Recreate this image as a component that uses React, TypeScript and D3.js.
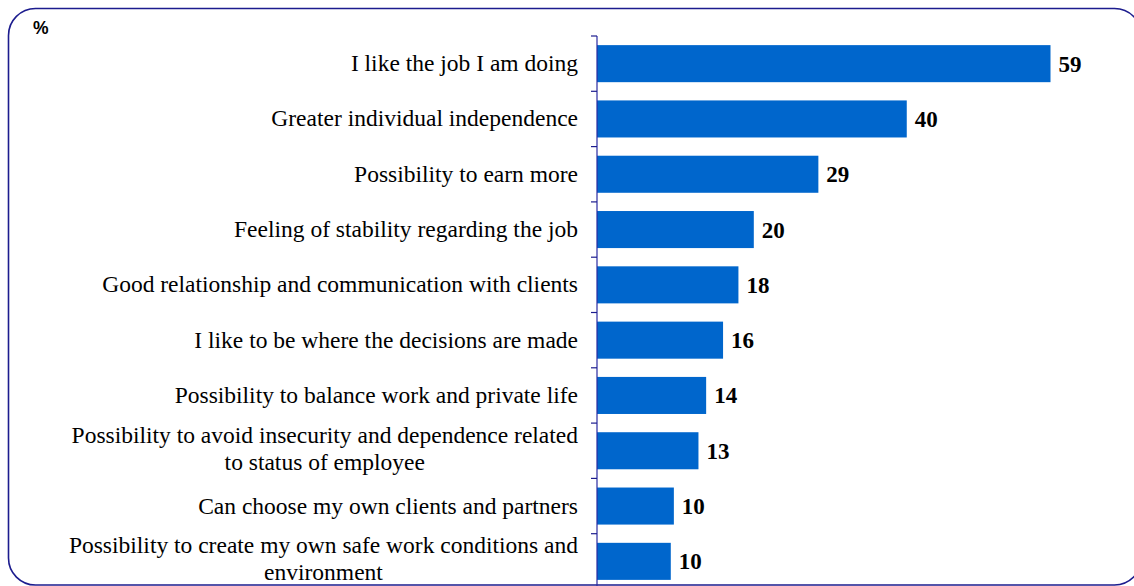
import React, { useEffect, useRef } from "react";
import * as d3 from "d3";

const categories: string[][] = [
  ["I like the job I am doing"],
  ["Greater individual independence"],
  ["Possibility to earn more"],
  ["Feeling of stability regarding the job"],
  ["Good relationship and communication with clients"],
  ["I like to be where the decisions are made"],
  ["Possibility to balance work and private life"],
  ["Possibility to avoid insecurity and dependence related", "to status of employee"],
  ["Can choose my own clients and partners"],
  ["Possibility to create my own safe work conditions and", "environment"],
];
const values: number[] = [59, 40.3, 28.8, 20.4, 18.4, 16.4, 14.2, 13.2, 10.0, 9.6];
const unitLabel = "%";

const W = 1134;
const H = 586;

export default function App() {
  const ref = useRef<SVGSVGElement | null>(null);

  useEffect(() => {
    const svg = d3.select(ref.current);
    svg.selectAll("*").remove();

    const axisX = 597;
    const keys = categories.map((_, i) => String(i));
    const y = d3.scaleBand<string>().domain(keys).range([36, 589]).paddingInner(0.33).paddingOuter(0.165);
    const x = d3.scaleLinear().domain([0, 59]).range([axisX, 1050.5]);

    // outer rounded frame
    svg.append("rect")
      .attr("x", 8.5).attr("y", 8.5).attr("width", 1133).attr("height", 576.5)
      .attr("rx", 27).attr("ry", 27)
      .attr("fill", "none").attr("stroke", "#1c1c8e").attr("stroke-width", 1.6);

    svg.append("text")
      .attr("x", 33).attr("y", 34)
      .attr("font-family", "Arial, 'Liberation Sans', sans-serif")
      .attr("font-weight", "bold").attr("font-size", 17.5)
      .attr("fill", "#000").text(unitLabel);

    // bars
    svg.append("g").selectAll("rect").data(values).join("rect")
      .attr("x", axisX)
      .attr("y", (_, i) => y(keys[i])!)
      .attr("width", (d) => x(d) - axisX)
      .attr("height", y.bandwidth())
      .attr("fill", "#0066CC");

    // value labels
    svg.append("g").selectAll("text").data(values).join("text")
      .attr("x", (d) => x(d) + 8)
      .attr("y", (_, i) => y(keys[i])! + y.bandwidth() / 2 + 8)
      .attr("font-family", "'Times New Roman', 'Liberation Serif', serif")
      .attr("font-weight", "bold").attr("font-size", 23)
      .attr("fill", "#000")
      .text((d) => String(Math.round(d)));

    // category axis
    const axis = svg.append("g").attr("transform", `translate(${axisX},0)`);
    axis.append("line").attr("x1", 0).attr("x2", 0).attr("y1", 36).attr("y2", H)
      .attr("stroke", "#2b2ba0").attr("stroke-width", 1.2);
    const step = y.step();
    const tickYs = d3.range(categories.length + 1).map((i) => 36 + i * step);
    axis.selectAll("line.tick").data(tickYs).join("line").attr("class", "tick")
      .attr("x1", -6).attr("x2", 0).attr("y1", (d) => d).attr("y2", (d) => d)
      .attr("stroke", "#1c1c8e").attr("stroke-width", 1.2);

    // category labels
    const labelRight = 578;
    const lg = svg.append("g")
      .attr("font-family", "'Times New Roman', 'Liberation Serif', serif")
      .attr("font-size", 23.5).attr("fill", "#000");
    categories.forEach((lines, i) => {
      const cy = y(keys[i])! + y.bandwidth() / 2;
      if (lines.length === 1) {
        lg.append("text").attr("x", labelRight).attr("y", cy + 7.5)
          .attr("text-anchor", "end").text(lines[0]);
      } else {
        const t = lg.append("text").attr("text-anchor", "middle");
        lines.forEach((l, j) => {
          t.append("tspan").attr("y", cy - 8 + j * 27).text(l);
        });
        let maxW = 0;
        t.selectAll<SVGTSpanElement, unknown>("tspan").each(function () {
          maxW = Math.max(maxW, this.getComputedTextLength());
        });
        t.selectAll("tspan").attr("x", labelRight - maxW / 2);
      }
    });
  }, []);

  return (
    <svg
      ref={ref}
      width={W}
      height={H}
      style={{ position: "absolute", left: 0, top: 0, background: "#fff" }}
    />
  );
}
